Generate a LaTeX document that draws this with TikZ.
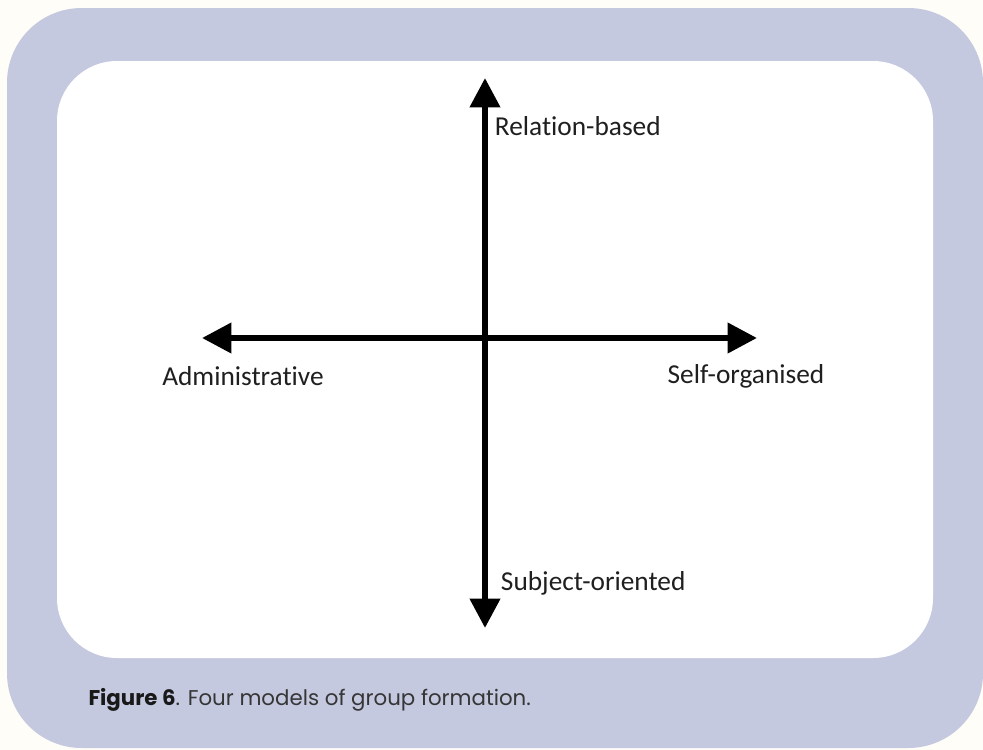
\documentclass[tikz,border=0pt]{standalone}
\usepackage{fontspec}
\usepackage{xcolor}
\usetikzlibrary{arrows.meta, positioning}
\setmainfont{Carlito}[Ligatures=NoCommon]
\newfontfamily\capfont{Poppins}

\definecolor{paper}{HTML}{FFFDF7}
\definecolor{panel}{HTML}{C5C9E0}
\definecolor{captxt}{HTML}{363636}

\begin{document}
\begin{tikzpicture}[x=0.75pt, y=-0.75pt, thick]
    % page and framed panel
    \fill[paper] (0,0) rectangle (983,750);
    \useasboundingbox (0,0) rectangle (983,750);
    \fill[panel, rounded corners=56pt] (7,8) rectangle (983,748);
    \fill[white, rounded corners=45pt] (57,61) rectangle (933,658);

    % ends of the two axes
    \coordinate (top) at (485,78);
    \coordinate (bottom) at (485,628);
    \coordinate (left) at (202,338);
    \coordinate (right) at (757,338);

    \draw[<->, >={Triangle[length=22pt, width=22pt]}, line width=4.5pt] (left) -- (right);
    \draw[<->, >={Triangle[length=22pt, width=22pt]}, line width=4.5pt] (bottom) -- (top);

    \node[anchor=west, font=\fontsize{20.5}{24}\selectfont, text=black!88] (rel) at (490,126) {Relation-based};
    \node[font=\fontsize{20.5}{24}\selectfont, text=black!88] (adm) at (243,376) {Administrative};
    \node[font=\fontsize{20.5}{24}\selectfont, text=black!88] (self) at (746,376) {Self-organised};
    \node[anchor=west, font=\fontsize{20.5}{24}\selectfont, text=black!88] (subj) at (496,583) {Subject-oriented};

    \node[anchor=west, inner sep=0pt, font=\capfont\fontsize{16}{19}\selectfont, text=captxt] (cap) at (88,700)
        {\textcolor{black!90}{\bfseries Figure 6}. Four models of group formation.};
\end{tikzpicture}
\end{document}
